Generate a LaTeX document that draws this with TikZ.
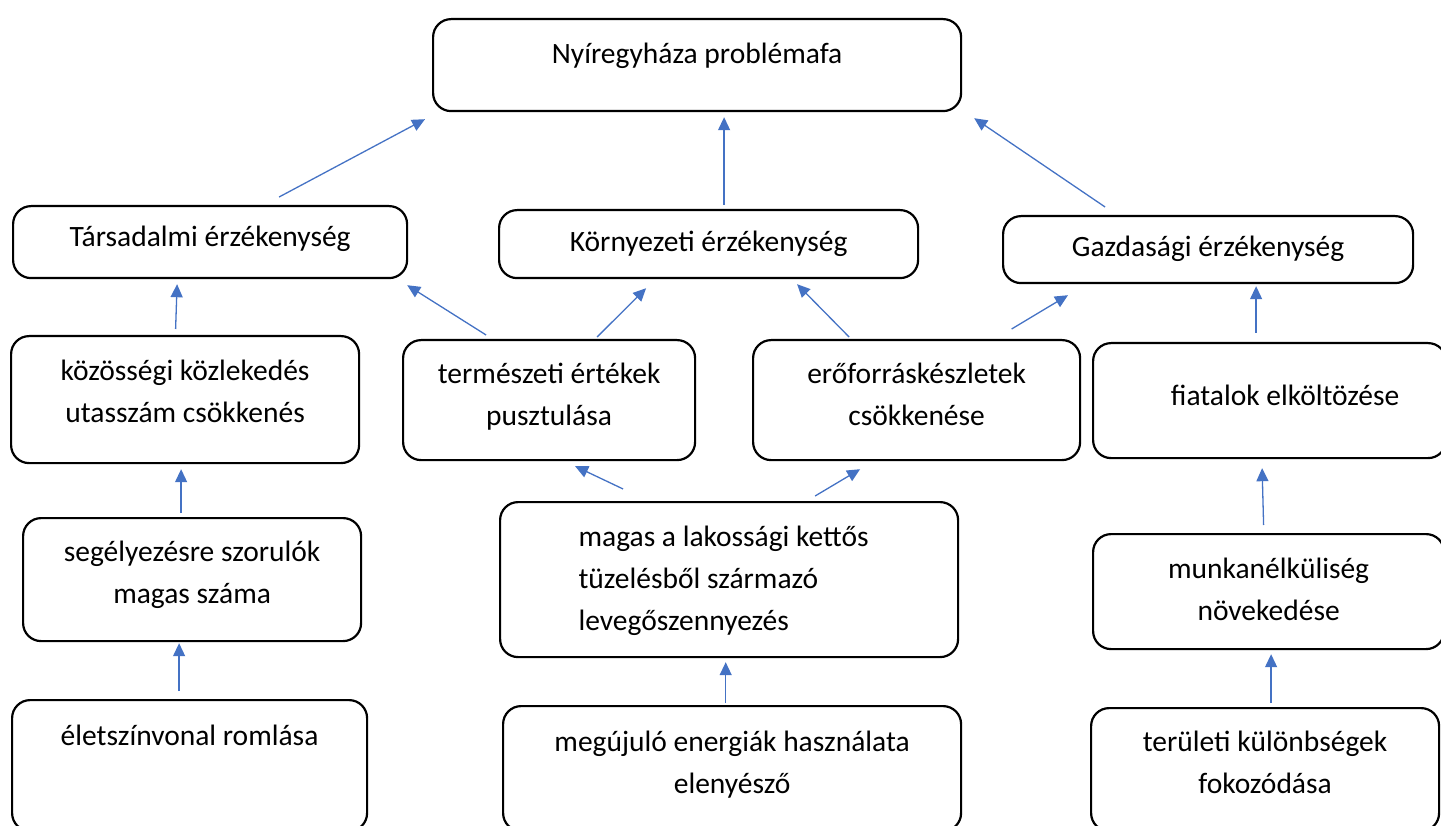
\documentclass[tikz,border=0pt]{standalone}
\usepackage{fontspec}
\setmainfont{Carlito}
\usetikzlibrary{arrows.meta}
\definecolor{wordblue}{RGB}{68,114,196}

\begin{document}
\begin{tikzpicture}[x=1pt,y=-1pt,
  probbox/.style={draw,line width=2.2pt,rounded corners=18pt,inner sep=0pt,anchor=north west,align=flush center,font=\fontsize{29.5}{42}\selectfont},
  causearrow/.style={wordblue,line width=1.3pt,-{Triangle[length=13pt,width=12pt]}}]
  \useasboundingbox (0,0) rectangle (1441,826);
  % top
  \node[probbox,minimum width=528pt,text width=500pt,text height=44pt,text depth=48pt] (root) at (432,18) {Nyíregyháza problémafa};
  % sensitivities
  \node[probbox,minimum width=394pt,text width=364pt,text height=40pt,text depth=32pt] (tars) at (12,205) {Társadalmi érzékenység};
  \node[probbox,minimum width=419pt,text width=389pt,text height=41pt,text depth=27pt] (korny) at (498,209) {Környezeti érzékenység};
  \node[probbox,minimum width=410pt,text width=380pt,text height=40pt,text depth=27pt] (gazd) at (1002,215) {Gazdasági érzékenység};
  % causes
  \node[probbox,minimum width=348pt,text width=318pt,text height=44pt,text depth=83pt] (kozos) at (10,335) {közösségi közlekedés\\utasszám csökkenés};
  \node[probbox,minimum width=292pt,text width=262pt,text height=43pt,text depth=77pt] (term) at (402,339) {természeti értékek\\pusztulása};
  \node[probbox,minimum width=327pt,text width=297pt,text height=43pt,text depth=77pt] (ero) at (752,339) {erőforráskészletek\\csökkenése};
  \node[probbox,minimum width=353pt,text width=323pt,text height=62pt,text depth=53pt] (fiat) at (1092,342) {\hspace*{31pt}fiatalok elköltözése};
  \node[probbox,minimum width=338pt,text width=308pt,text height=43pt,text depth=80pt] (segely) at (22,517) {segélyezésre szorulók\\magas száma};
  \node[probbox,align=flush left,minimum width=458pt,text width=301pt,text height=44pt,text depth=111pt] (magas) at (499,501) {magas a lakossági kettős\\tüzelésből származó\\levegőszennyezés};
  \node[probbox,minimum width=351pt,text width=321pt,text height=44pt,text depth=71pt] (munka) at (1092,533) {munkanélküliség\\növekedése};
  % roots
  \node[probbox,minimum width=355pt,text width=325pt,text height=45pt,text depth=86pt] (elet) at (11,699) {életszínvonal romlása};
  \node[probbox,minimum width=458pt,text width=428pt,text height=45pt,text depth=80pt] (megujulo) at (502,705) {megújuló energiák használata\\elenyésző};
  \node[probbox,minimum width=348pt,text width=318pt,text height=43pt,text depth=80pt] (terulet) at (1090,707) {területi különbségek\\fokozódása};
  % arrows
  \foreach \s/\sa/\sx/\sy/\t/\ta/\tx/\ty in {
      tars/north/69/8/root/south west/-7/-7,
      korny/north/15.5/4/root/south/27/-5,
      gazd/north/-103/8/root/south east/12/-6,
      kozos/north/-9.5/6/tars/south/-33/-5,
      term/north/-63/4/tars/south east/-1/-6,
      term/north/48/2/korny/south/-62.5/-9,
      ero/north/-67.5/2/korny/south/88.5/-5,
      ero/north/95/10/gazd/south west/66/-11,
      fiat/north/-13.5/9/gazd/south/48/-2,
      segely/north/-11/4/kozos/south/-4/-5,
      magas/north/-106/12/term/south/26/-5,
      magas/north/86/5/ero/south/-56.5/-8,
      munka/north/-5/8/fiat/south/-7.5/-9,
      elet/north/-10.5/8/segely/south/-13/-1,
      megujulo/north/-6.4/2/magas/south/-3.4/-4,
      terulet/north/6/4/munka/south/2.5/-4}
    \draw[causearrow] ([xshift=\sx pt,yshift=\sy pt]\s.\sa) -- ([xshift=\tx pt,yshift=\ty pt]\t.\ta);
\end{tikzpicture}
\end{document}
